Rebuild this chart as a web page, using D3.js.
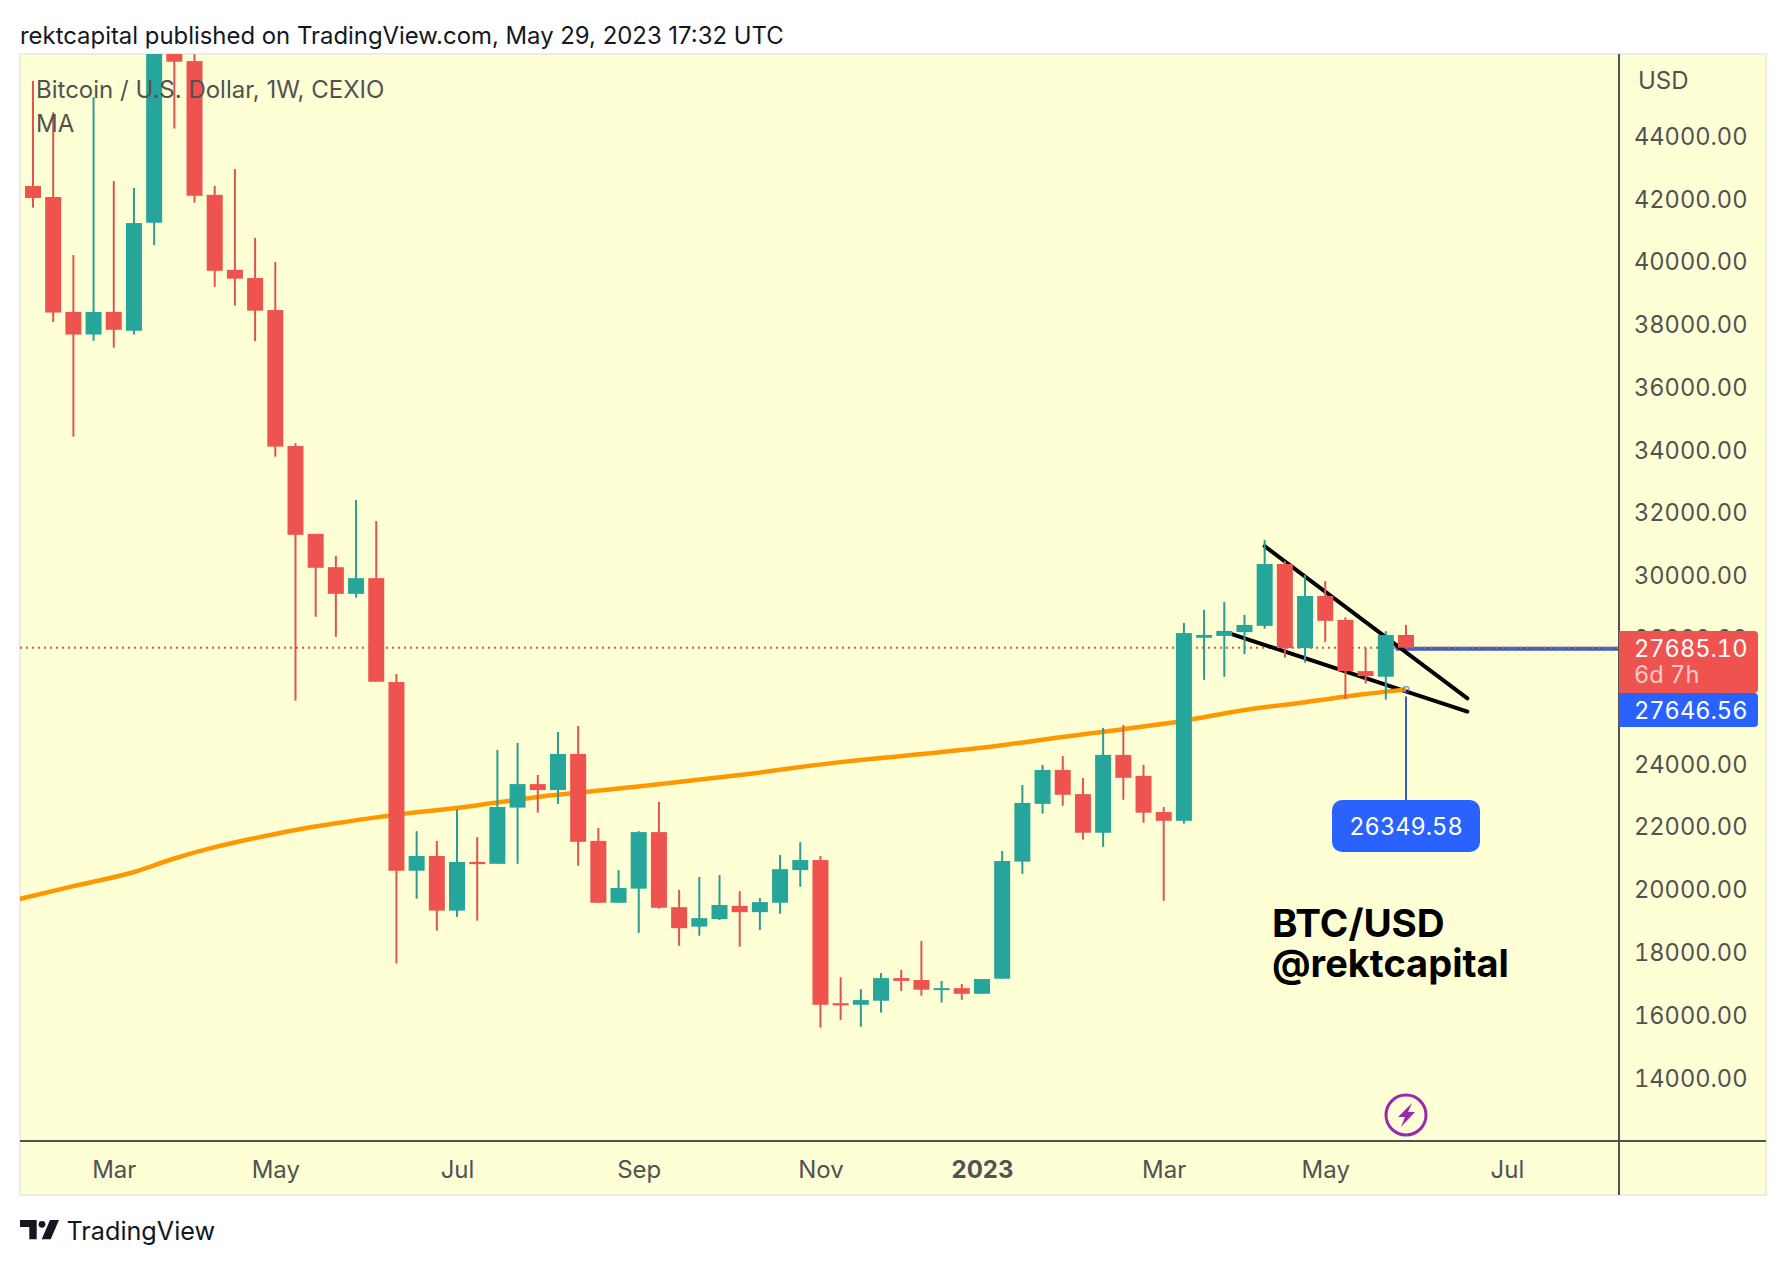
<!DOCTYPE html>
<html>
<head>
<meta charset="utf-8">
<title>BTC/USD</title>
<script src="https://cdn.jsdelivr.net/npm/d3@7"></script>
<style>
  html, body { margin: 0; background: #fff; }
  svg { display: block; }
  text { font-family: Inter, "Noto Sans", sans-serif; }
  .num { font-variant-numeric: tabular-nums; font-size: 23.6px; }
</style>
</head>
<body>
<div id="chart"></div>
<script>
// weekly candles
const opens = [42390,42040,38380,37660,38380,37780,41220,47100,46370,42110,39720,39460,38440,34110,31310,30250,29400,29900,26590,20580,
  21050,19310,20860,20800,22590,23340,23150,24300,21530,19560,20010,21810,19420,18800,19040,19460,19260,19560,20600,20920,
  16360,16310,16440,17160,17100,16790,16840,16660,17140,20870,22710,23790,23020,21790,24270,23600,22450,22170,28000,28060,
  28180,28380,30350,27670,29330,28570,26940,26760,28090];
const closes = [42010,38360,37660,38380,37810,41210,47100,46350,42080,39690,39440,38420,34090,31280,30230,29400,29900,26600,20580,21050,
  19310,20860,20790,22610,23340,23150,24300,21500,19560,20030,21810,19400,18750,19070,19490,19260,19580,20630,20920,16310,
  16290,16460,17160,17070,16790,16840,16660,17130,20890,22740,23790,23000,21790,24270,23540,22430,22170,28150,28090,28220,
  28410,30350,27670,29330,28540,26940,26780,28090,27685.1];
const highs = [45740,44740,40190,45220,42550,42330,48200,48000,46590,42390,42930,40740,39970,34200,31310,30610,32390,31720,26850,21840,
  21530,22540,21650,24430,24650,23630,25000,25190,21940,20600,21840,22770,19970,20380,20440,19930,19710,21080,21490,21050,
  17190,16810,17320,17420,18340,17070,16970,17130,21210,23310,23950,24230,23530,25130,25220,23950,22610,28470,28890,29140,
  28730,31120,30450,30000,29810,28650,27680,28210,28410];
const lows = [41700,38060,34410,37460,37240,37660,40510,44220,41860,39180,38580,37450,33770,26000,28670,28030,29280,26600,17630,19690,
  18670,19110,18990,20800,20800,22430,22710,20740,19560,19560,18600,19370,18190,18510,19010,18160,18690,19210,20070,15580,
  15830,15610,16060,16750,16600,16380,16470,16660,17140,20480,22400,22650,21570,21340,22840,22110,19620,22080,26660,26760,
  27480,28290,27370,27210,27870,26050,26540,26030,27685.1];

// moving average, read at some of the weeks
const maWeeks = [-1,2,5,7,9,11,13,15,17,19,21,25,30,35,40,45,48,51,54,57,60,63,66,68];
const maValues = [19630,20090,20540,20970,21330,21620,21880,22090,22280,22440,22580,22930,23260,23630,24040,24360,24580,24840,25090,25360,25700,25950,26210,26349.58];

// drawn trend lines: week position and price at both ends
const upperWeeks = [61, 71.04];
const upperPrices = [30920, 26070];
const lowerWeeks = [59.37, 71.04];
const lowerPrices = [28120, 25650];

const priceTicks = [14000,16000,18000,20000,22000,24000,26000,28000,30000,32000,34000,36000,38000,40000,42000,44000];
const timeWeeks = [4,12,21,30,39,47,56,64,73];
const timeLabels = ["Mar","May","Jul","Sep","Nov","2023","Mar","May","Jul"];

const lastPrice = 27685.1;
const maLabel = "26349.58";

const width = 1786, height = 1266;
const panel = { left: 20, top: 54, right: 1766, bottom: 1195 };
const axisX = 1619, axisY = 1141;
const UP = "#26a69a", DOWN = "#ef5350", BLUE = "#2962ff", LINK = "#3a5fc8", INK = "#525252";

const x = d3.scaleLinear().domain([0, 68]).range([33, 1406]);
const y = d3.scaleLinear().domain([14000, 44000]).range([1077.3, 135.5]);

const svg = d3.select("#chart").append("svg").attr("width", width).attr("height", height);

svg.append("text").attr("x", 20).attr("y", 44)
  .style("font-size", "23.9px").attr("fill", "#131722")
  .text("rektcapital published on TradingView.com, May 29, 2023 17:32 UTC");

svg.append("rect")
  .attr("x", panel.left).attr("y", panel.top)
  .attr("width", panel.right - panel.left).attr("height", panel.bottom - panel.top)
  .attr("fill", "#ffffd6").attr("stroke", "#ecece0").attr("stroke-width", 2);

svg.append("clipPath").attr("id", "plot").append("rect")
  .attr("x", panel.left).attr("y", panel.top)
  .attr("width", axisX - panel.left).attr("height", axisY - panel.top);

const plot = svg.append("g").attr("clip-path", "url(#plot)");

// price line, with the blue link of the last bar under it
plot.append("line")
  .attr("x1", x(67) + 10).attr("x2", axisX)
  .attr("y1", y(lastPrice) + 1).attr("y2", y(lastPrice) + 1)
  .attr("stroke", LINK).attr("stroke-width", 4);
plot.append("line")
  .attr("x1", panel.left).attr("x2", axisX)
  .attr("y1", y(lastPrice)).attr("y2", y(lastPrice))
  .attr("stroke", "#d0584e").attr("stroke-width", 2).attr("stroke-dasharray", "2 4");

const trend = d3.line().x(d => x(d[0])).y(d => y(d[1]));
[d3.zip(upperWeeks, upperPrices), d3.zip(lowerWeeks, lowerPrices)].forEach(pts => {
  plot.append("path").attr("d", trend(pts))
    .attr("fill", "none").attr("stroke", "#000").attr("stroke-width", 4).attr("stroke-linecap", "round");
});

plot.append("path")
  .attr("d", d3.line().curve(d3.curveMonotoneX).x(d => x(d[0])).y(d => y(d[1]))(d3.zip(maWeeks, maValues)))
  .attr("fill", "none").attr("stroke", "#ff9800").attr("stroke-width", 4.5);

const candles = d3.range(opens.length).map(i => ({ i, o: opens[i], c: closes[i], h: highs[i], l: lows[i] }));
const bars = plot.selectAll(".bar").data(candles).enter().append("g").attr("class", "bar");
bars.append("rect")
  .attr("fill", d => d.c >= d.o ? "#2a9d90" : "#df5450")
  .attr("x", d => x(d.i) - 1).attr("width", 2)
  .attr("y", d => y(d.h)).attr("height", d => y(d.l) - y(d.h));
bars.append("rect")
  .attr("fill", d => d.c >= d.o ? UP : DOWN)
  .attr("x", d => x(d.i) - 8).attr("width", 16)
  .attr("y", d => y(Math.max(d.o, d.c)))
  .attr("height", d => Math.max(2, Math.abs(y(d.o) - y(d.c))));

// end of the MA and its callout
const maX = x(68), maY = y(maValues[maValues.length - 1]);
svg.append("circle").attr("cx", maX).attr("cy", maY).attr("r", 3)
  .attr("fill", "none").attr("stroke", LINK).attr("stroke-width", 1.5).attr("stroke-opacity", 0.6);
svg.append("line").attr("x1", maX).attr("x2", maX).attr("y1", maY + 7).attr("y2", 800)
  .attr("stroke", LINK).attr("stroke-width", 2);
svg.append("rect").attr("x", maX - 74).attr("y", 800).attr("width", 148).attr("height", 52).attr("rx", 10)
  .attr("fill", BLUE);
svg.append("text").attr("class", "num").attr("x", maX).attr("y", 827).attr("dy", "0.36em").attr("text-anchor", "middle")
  .attr("fill", "#fff").text(maLabel);

svg.append("text").attr("x", 1272).attr("y", 937)
  .style("font-size", "38.6px").style("font-weight", 700).attr("fill", "#000").text("BTC/USD");
svg.append("text").attr("x", 1272).attr("y", 977)
  .style("font-size", "38px").style("font-weight", 700).attr("fill", "#000").text("@rektcapital");

// lightning mark
const bolt = svg.append("g").attr("transform", `translate(${maX},1115)`);
bolt.append("circle").attr("r", 20).attr("fill", "none").attr("stroke", "#9c27b0").attr("stroke-width", 3);
bolt.append("path").attr("d", "M6 -12 L-8 2 L-1 2 L-5 12 L9 -3 L2 -3 Z").attr("fill", "#9c27b0");

// axes
svg.append("line").attr("x1", panel.left).attr("x2", panel.right).attr("y1", axisY).attr("y2", axisY)
  .attr("stroke", INK).attr("stroke-width", 2);
svg.append("line").attr("x1", axisX).attr("x2", axisX).attr("y1", panel.top).attr("y2", panel.bottom)
  .attr("stroke", INK).attr("stroke-width", 2);

const priceAxis = svg.append("g").attr("transform", `translate(${axisX},1.2)`)
  .call(d3.axisRight(y).tickValues(priceTicks).tickSize(0).tickPadding(15).tickFormat(d => d.toFixed(2)));
const timeAxis = svg.append("g").attr("transform", `translate(0,${axisY})`)
  .call(d3.axisBottom(x).tickValues(timeWeeks).tickSize(0).tickPadding(20)
    .tickFormat((d, i) => timeLabels[i]));
[priceAxis, timeAxis].forEach(a => {
  a.select(".domain").remove();
  a.selectAll("text").style("font-family", "Inter, sans-serif").style("font-size", "24px").attr("fill", INK);
});
priceAxis.selectAll("text").attr("class", "num").style("font-size", null);
timeAxis.selectAll("text").filter(d => d === 47).style("font-weight", 700);

svg.append("text").attr("x", 1638).attr("y", 80).attr("dy", "0.36em")
  .style("font-size", "24px").attr("fill", INK).text("USD");

// price tags
const tag = (top, h, color) => svg.append("path")
  .attr("d", `M${axisX} ${top}H1754a4 4 0 0 1 4 4V${top + h - 4}a4 4 0 0 1 -4 4H${axisX}Z`)
  .attr("fill", color);
tag(631, 62, DOWN);
tag(693, 34, BLUE);
const tagText = (t, cy, color) => svg.append("text").attr("class", "num").attr("x", 1634).attr("y", cy).attr("dy", "0.36em")
  .attr("fill", color).text(t);
tagText(lastPrice.toFixed(2), y(lastPrice) + 1, "#fff");
tagText("6d 7h", 675, "#fbc9c6");
tagText("27646.56", 710.5, "#fff");

// legend on top of the candles
svg.append("text").attr("x", 36).attr("y", 89).attr("dy", "0.36em")
  .style("font-size", "24px").attr("fill", INK).text("Bitcoin / U.S. Dollar, 1W, CEXIO");
svg.append("text").attr("x", 36).attr("y", 123).attr("dy", "0.36em")
  .style("font-size", "24px").attr("fill", INK).text("MA");

// TradingView logo
const logo = svg.append("g").attr("fill", "#131722");
logo.append("path").attr("d", "M20 1220H36.7V1239.3H29.3V1227H20Z");
logo.append("circle").attr("cx", 42).attr("cy", 1224.3).attr("r", 3.4);
logo.append("path").attr("d", "M50 1220H59L50.7 1239.3H41.7Z");
svg.append("text").attr("x", 66.5).attr("y", 1231).attr("dy", "0.36em")
  .style("font-size", "25.2px").attr("fill", "#131722").text("TradingView");
</script>
</body>
</html>
